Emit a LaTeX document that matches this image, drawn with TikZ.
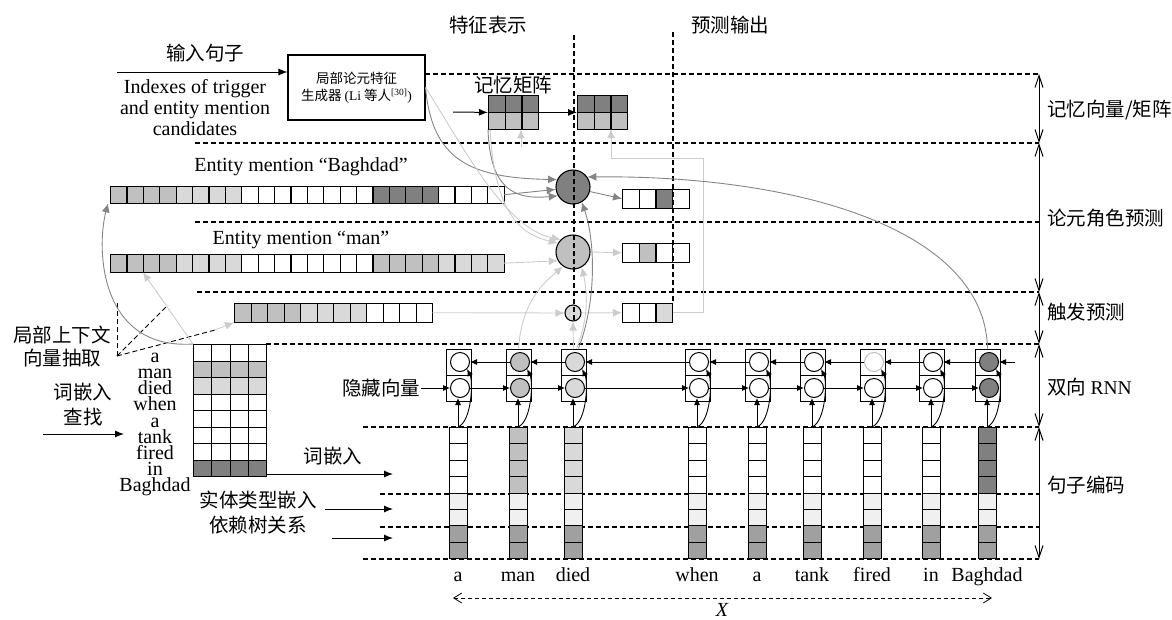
\documentclass[tikz,border=0pt]{standalone}
\usepackage{fontspec}
\setmainfont{Liberation Serif}
\newfontfamily\cjk{Noto Sans CJK SC}
\usetikzlibrary{arrows.meta}

\definecolor{dk}{HTML}{808080}
\definecolor{md}{HTML}{C0C0C0}
\definecolor{lt}{HTML}{D9D9D9}
\definecolor{vl}{HTML}{F0F0F0}
\definecolor{dp}{HTML}{A0A0A0}
\definecolor{gline}{HTML}{858585}
\definecolor{lline}{HTML}{CCCCCC}

\newcommand{\cnfont}{\cjk\fontsize{19.5}{23}\selectfont}
\newcommand{\enfont}{\rmfamily\fontsize{20}{21}\selectfont}

\tikzset{
  cell/.style={draw, line width=1.1pt, inner sep=0pt, anchor=north west},
  unit/.style={circle, draw, line width=1pt, minimum size=19pt, inner sep=0pt},
  sep/.style={dash pattern=on 5pt off 3pt, line width=1.1pt},
  arr/.style={line width=1pt, -{Latex[length=9pt,width=7pt]}},
  rnnarr/.style={line width=0.9pt, -{Latex[length=7pt,width=6pt]}},
  garr/.style={draw=gline, line width=0.9pt, -{Latex[length=9pt,width=8pt]}},
  larr/.style={draw=lline, line width=0.9pt, -{Latex[length=9pt,width=8pt]}},
  band/.style={line width=1pt, {Straight Barb[length=12pt,width=8pt]}-{Straight Barb[length=12pt,width=8pt]}},
  xarr/.style={dash pattern=on 4pt off 3pt, line width=0.8pt, {Straight Barb[length=8pt,width=10pt]}-{Straight Barb[length=8pt,width=10pt]}},
  cn/.style={font=\cnfont, inner sep=1pt},
  en/.style={font=\enfont, inner sep=1pt},
}

% row of cells: name, x0, ytop, cell width, cell height, number, colours
\newcommand{\hvec}[7]{%
  \foreach \cl [count=\i from 0] in {#7}
    \node[cell, fill=\cl, minimum width=#4pt, minimum height=#5pt] at ({#2+\i*#4}, #3) {};
  \node[inner sep=0pt, minimum width={#6*#4pt}, minimum height=#5pt, anchor=north west] (#1) at (#2, #3) {};
}

\begin{document}
\begin{tikzpicture}[x=1pt, y=-1pt]
  \useasboundingbox (0,0) rectangle (1172,619);

  % headings
  \node[cn] (hfeat) at (488,25) {特征表示};
  \node[cn] (hpred) at (730,25) {预测输出};

  % band separators
  \draw[sep] (425,74) -- (1039,74);
  \draw[sep] (195,143) -- (1039,143);
  \draw[sep] (195,222) -- (1039,222);
  \draw[sep] (197,292) -- (1039,292);
  \draw[sep] (266,344) -- (1039,344);
  \draw[sep] (363,427) -- (1039,427);
  \draw[sep] (380,494) -- (1039,494);
  \draw[sep] (380,527) -- (1039,527);
  \draw[sep] (363,559) -- (1039,559);

  % bands on the right
  \foreach \y [count=\i from 0] in {74,143,292,344,427,559}
    \coordinate (r\i) at (1039,\y);
  \foreach \i/\j in {0/1,1/2,2/3,3/4,4/5}
    \draw[band] (r\i) -- (r\j);
  \node[cn, anchor=west] (lmem) at (1046,110) {记忆向量/矩阵};
  \node[cn, anchor=west] (larg) at (1046,218) {论元角色预测};
  \node[cn, anchor=west] (ltrg) at (1046,312) {触发预测};
  \node[cn, anchor=west] (lrnn) at (1046,387) {双向 {\rmfamily RNN}};
  \node[cn, anchor=west] (lenc) at (1046,485) {句子编码};

  % input and generator
  \node[draw, line width=1.1pt, minimum width=137pt, minimum height=65pt, align=center,
        font=\cjk\fontsize{13.5}{17}\selectfont] (gen) at (356.5,87.5)
        {局部论元特征\\生成器 {\rmfamily (Li} 等人{\rmfamily\textsuperscript{[30]})}};
  \coordinate (sin) at (117,72);
  \draw[arr] (sin) -- (gen.west |- sin);
  \node[cn] (tin) at (205,53) {输入句子};
  \node[en, align=center] (tidx) at (195,108) {Indexes of trigger\\and entity mention\\candidates};

  % memory matrices
  \node[cn] (tmem) at (513,85) {记忆矩阵};
  \hvec{m1a}{488}{95}{16.7}{17}{3}{dk,dk,dk}
  \hvec{m1b}{488}{112}{16.7}{17}{3}{md,md,md}
  \hvec{m2a}{577}{95}{16.7}{17}{3}{dk,dk,dk}
  \hvec{m2b}{577}{112}{16.7}{17}{3}{md,md,md}
  \coordinate (min) at (453,112);
  \draw[arr] (min) -- (m1a.south west);
  \draw[arr] (m1a.south east) -- (m2a.south west);
  \coordinate (mu1) at (521,147);
  \draw[larr] (mu1) -- (mu1 |- m1b.south);

  % entity and trigger vectors
  \node[en] (tbag) at (301,167) {Entity mention “Baghdad”};
  \node[en] (tman) at (301,240) {Entity mention “man”};
  \hvec{bvec}{110}{186}{16.4}{17}{24}{md,md,md,md,lt,lt,lt,lt,white,white,white,white,white,white,white,white,dk,dk,dk,dk,white,white,white,white}
  \hvec{mvec}{110}{254}{16.4}{18}{24}{md,md,md,md,lt,lt,lt,lt,white,white,white,white,white,white,white,white,md,md,md,md,lt,lt,lt,lt}
  \hvec{tvec}{234}{303}{16.5}{19}{12}{md,md,md,md,lt,lt,lt,lt,white,white,white,white}

  % prediction units and outputs
  \node[circle, draw, line width=1.1pt, fill=dk, minimum size=34pt, inner sep=0pt] (cB) at (573,187) {};
  \node[circle, draw, line width=1.1pt, fill=md, minimum size=34pt, inner sep=0pt] (cM) at (573,252) {};
  \node[circle, draw, line width=1.1pt, fill=lt, minimum size=16pt, inner sep=0pt] (cT) at (573,313) {};
  \hvec{bout}{622}{189}{16.7}{19}{4}{white,white,dk,white}
  \hvec{mout}{622}{243}{16.7}{19}{4}{white,md,white,white}
  \hvec{tout}{622}{303}{16.7}{19}{3}{white,white,lt}

  \draw[sep] (574,35) -- (574,321);
  \draw[sep] (673,32) -- (673,303);

  \draw[garr] (gen.east) .. controls (432,160) and (470,178) .. (cB.155);
  \draw[larr] (gen.east) .. controls (465,150) and (505,228) .. (cM.135);
  \draw[garr] (m1b.south west) .. controls (490,190) and (515,200) .. (cB.210);
  \draw[larr] ([xshift=2pt]m1b.south west) .. controls (495,220) and (525,235) .. (cM.150);
  \draw[garr] (bvec.east) -- (cB.188);
  \draw[larr] (mvec.east) -- (cM.210);
  \draw[larr] (tvec.east) -- (cT.west);
  \draw[garr] (cB.-15) -- (bout.west);
  \draw[larr] (cM.east) -- (mout.west);
  \draw[larr] (cT.east) -- (tout.west);
  \coordinate (lp) at (703,158);
  \coordinate (mu2) at (611,129);
  \draw[larr] (tout.east) -| (lp) -| (mu2);

  % word embedding lookup
  \foreach \cl [count=\r from 0] in {white,md,lt,white,white,white,white,dk}
    \foreach \k in {0,...,3}
      \node[cell, fill=\cl, minimum width=18.25pt, minimum height=16.5pt] at ({193+\k*18.25},{344+\r*16.5}) {};
  \node[inner sep=0pt, minimum width=73pt, minimum height=132pt, anchor=north west] (wm) at (193,344) {};
  \node[font=\rmfamily\fontsize{20}{16.1}\selectfont, align=center, inner sep=0pt] (wlist) at (155,424.5)
        {a\\man\\died\\when\\a\\tank\\fired\\in\\Baghdad};
  \node[cn, align=center] (lctx) at (62,347) {局部上下文\\向量抽取};
  \node[cn, align=center, font=\cjk\fontsize{19.5}{25}\selectfont] (llook) at (83,405) {词嵌入\\查找};
  \coordinate (lk) at (43,434);
  \coordinate (lk2) at (124,434);
  \draw[arr] (lk) -- (lk2);

  % local context extraction
  \coordinate (ap) at (117,356);
  \coordinate (fa) at (117,303);
  \coordinate (fb) at (168,305);
  \coordinate (fc) at (215,330);
  \draw[sep, line width=0.9pt] (ap) -- (fa);
  \draw[sep, line width=0.9pt] (ap) -- (fb);
  \draw[sep, line width=0.9pt] (ap) -- (fc);
  \draw[garr] (wm.north west) .. controls (100,350) and (96,250) .. ([xshift=-2pt]bvec.south west);
  \draw[larr] (wm.north west) -- ([xshift=33pt]mvec.south west);
  \draw[larr] (fc) -- (tvec.south west);

  % feature inputs
  \coordinate (we) at (393,474);
  \draw[arr] (wm.east |- we) -- (we);
  \node[cn] (lwe) at (333,456) {词嵌入};
  \node[cn] (lent) at (258,500) {实体类型嵌入};
  \coordinate (ea) at (325,509);
  \coordinate (eb) at (393,509);
  \draw[arr] (ea) -- (eb);
  \node[cn] (ldep) at (258,525) {依赖树关系};
  \coordinate (da) at (332,538);
  \coordinate (db) at (393,538);
  \draw[arr] (da) -- (db);

  % sentence encoding and bidirectional RNN
  \foreach \x/\cl/\o [count=\i] in {458/white/black, 518/md/black, 573/lt/black, 697/white/black, 757/white/black, 812/white/black, 872/white/black!25, 931/white/black, 987/dk/black} {
    \foreach \r in {0,...,3}
      \node[cell, fill=\cl, minimum width=18pt, minimum height=16.4pt] at (\x-9, 427+\r*16.375) {};
    \foreach \r in {4,5}
      \node[cell, fill=vl, minimum width=18pt, minimum height=16.4pt] at (\x-9, 427+\r*16.375) {};
    \foreach \r in {6,7}
      \node[cell, fill=dp, minimum width=18pt, minimum height=16.4pt] at (\x-9, 427+\r*16.375) {};
    \coordinate (e\i) at (\x,427);
    \node[draw, line width=1pt, minimum width=25pt, minimum height=52pt, inner sep=0pt] (k\i) at (\x+0.5,375) {};
    \draw[line width=1pt] (k\i.west) -- (k\i.east);
    \node[unit, fill=\cl] (f\i) at (\x+2,388) {};
    \node[unit, fill=\cl, draw=\o] (b\i) at (\x+2,362) {};
  }
  \foreach \i [evaluate=\i as \j using int(\i+1)] in {1,...,8} {
    \draw[rnnarr] (f\i) -- (f\j);
    \draw[rnnarr] (b\j) -- (b\i);
  }
  \foreach \i in {1,...,9} {
    \draw[rnnarr] (e\i) -- (e\i |- f\i.south);
    \draw[rnnarr] (e\i) .. controls +(14,-6) and +(6,12) .. (b\i.-45);
  }
  \node[cn] (hid) at (381,388) {隐藏向量};
  \draw[rnnarr] (hid.east) -- (f1);
  \coordinate (rin) at (1015,362);
  \draw[rnnarr] (rin) -- (b9);

  % from the RNN up to the units
  \draw[larr] (k3.north) -- (cT.south);
  \draw[larr] (k2.north) .. controls (522,300) and (545,282) .. (cM.235);
  \draw[larr] ([xshift=3pt]k3.north) .. controls (588,320) and (588,295) .. (cM.-60);
  \draw[garr] ([xshift=5pt]k3.north) .. controls (597,300) and (595,240) .. (cB.-60);
  \draw[garr] (k9.north) .. controls (985,230) and (800,175) .. (cB.35);

  % words
  \foreach \x/\w [count=\i] in {458/a, 518/man, 573/died, 697/when, 757/a, 812/tank, 872/fired, 931/in, 987/Baghdad}
    \node[en, anchor=base] (w\i) at (\x,581) {\w};
  \coordinate (xa) at (453,598);
  \coordinate (xb) at (992,598);
  \draw[xarr] (xa) -- (xb);
  \node[en, font=\enfont\itshape, anchor=base] (xl) at (722,616) {X};
\end{tikzpicture}
\end{document}
